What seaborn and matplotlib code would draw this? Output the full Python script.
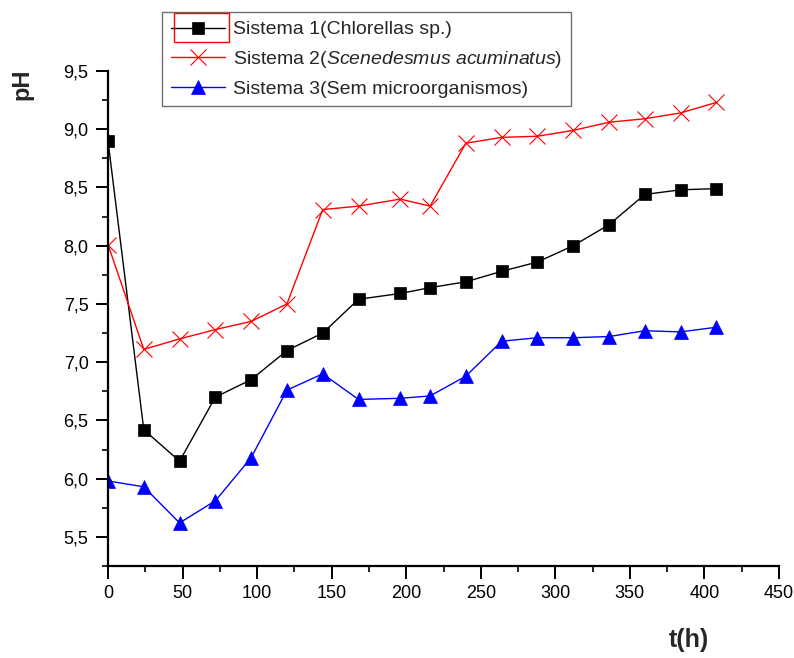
import numpy as np
import pandas as pd
import matplotlib
matplotlib.use("Agg")
import matplotlib.pyplot as plt
import seaborn as sns
from matplotlib.ticker import MultipleLocator, FuncFormatter
from matplotlib.patches import Rectangle

time_h = [0, 24, 48, 72, 96, 120, 144, 168, 196, 216, 240, 264, 288, 312, 336, 360, 384, 408]
ph_sistema1 = [8.90, 6.42, 6.15, 6.70, 6.85, 7.10, 7.25, 7.54, 7.59, 7.64, 7.69, 7.78, 7.86, 8.00, 8.18, 8.44, 8.48, 8.49]
ph_sistema2 = [8.01, 7.11, 7.20, 7.28, 7.35, 7.50, 8.31, 8.34, 8.40, 8.34, 8.88, 8.93, 8.94, 8.99, 9.06, 9.09, 9.14, 9.23]
ph_sistema3 = [5.98, 5.93, 5.62, 5.81, 6.18, 6.76, 6.90, 6.68, 6.69, 6.71, 6.88, 7.18, 7.21, 7.21, 7.22, 7.27, 7.26, 7.30]
series_labels = [
    "Sistema 1(Chlorellas sp.)",
    r"Sistema 2($\it{Scenedesmus\ acuminatus}$)",
    "Sistema 3(Sem microorganismos)",
]
x_label = "t(h)"
y_label = "pH"

sns.set_style("ticks")
plt.rcParams["font.family"] = ["Liberation Sans", "DejaVu Sans"]
plt.rcParams["mathtext.fontset"] = "custom"
plt.rcParams["mathtext.rm"] = "Liberation Sans"
plt.rcParams["mathtext.it"] = "Liberation Sans:italic"

W, H = 794, 658
fig = plt.figure(figsize=(W / 100, H / 100), dpi=100)
ax = fig.add_axes([108 / W, 1 - 566 / H, (779 - 108) / W, (566 - 71) / H])

sns.lineplot(x=time_h, y=ph_sistema1, ax=ax, color="black", linewidth=1,
             marker="s", markersize=9, markeredgecolor="black", markeredgewidth=0.5,
             label=series_labels[0])
sns.lineplot(x=time_h, y=ph_sistema2, ax=ax, color="red", linewidth=1,
             marker="x", markersize=11, markeredgecolor="red", markeredgewidth=0.8,
             label=series_labels[1])
sns.lineplot(x=time_h, y=ph_sistema3, ax=ax, color="blue", linewidth=1,
             marker="^", markersize=10, markeredgecolor="blue", markeredgewidth=0.5,
             label=series_labels[2])

ax.set_xlim(0, 450)
ax.xaxis.set_major_locator(MultipleLocator(50))
ax.xaxis.set_minor_locator(MultipleLocator(25))
ax.yaxis.set_major_locator(MultipleLocator(0.5))
ax.yaxis.set_minor_locator(MultipleLocator(0.25))
ax.yaxis.set_major_formatter(FuncFormatter(lambda v, p: f"{v:.1f}".replace(".", ",")))
ax.set_ylim(5.25, 9.5)

for s in ["top", "right"]:
    ax.spines[s].set_visible(False)
for s in ["left", "bottom"]:
    ax.spines[s].set_linewidth(1.6)
    ax.spines[s].set_color("black")
ax.tick_params(which="major", direction="out", length=9, width=1.4, labelsize=13,
               colors="black", pad=5)
ax.tick_params(which="minor", direction="out", length=4.5, width=1.4)
ax.set_xlabel("")
ax.set_ylabel("")

handles, labels = ax.get_legend_handles_labels()
ax.get_legend().remove()
leg = fig.legend(handles, labels, loc="upper left", bbox_to_anchor=(162 / W, 1 - 12 / H),
                 frameon=True, fancybox=False, edgecolor="#707070", fontsize=14,
                 handlelength=2.8, handletextpad=0.4, labelspacing=0.53, borderpad=0.45,
                 borderaxespad=0, framealpha=1)
leg.get_frame().set_linewidth(1.0)

fig.add_artist(Rectangle((174 / W, 1 - 42 / H), 55 / W, 29 / H, transform=fig.transFigure,
                         fill=False, edgecolor="red", linewidth=1, zorder=20))

fig.text(22 / W, 1 - 84 / H, y_label, rotation=90, ha="center", va="center",
         fontsize=17, fontweight="bold")
fig.text(689 / W, 1 - 640 / H, x_label, ha="center", va="center",
         fontsize=18, fontweight="bold")

fig.savefig("out.png", dpi=100)
